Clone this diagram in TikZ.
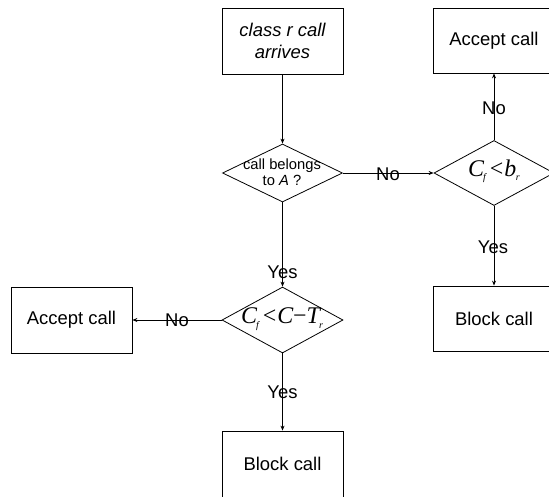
\documentclass[tikz,border=0pt]{standalone}
\usepackage{fontspec}
\setmainfont{Liberation Sans}
\newfontfamily\tms{Liberation Serif}
\usetikzlibrary{arrows.meta,shapes.geometric}
\newcommand{\vsub}[1]{\raisebox{-4.5bp}{\fontsize{10}{10}\selectfont #1}}
\begin{document}
\begin{tikzpicture}[x=1bp,y=-1bp,
  every node/.style={inner sep=0pt},
  boxnode/.style={draw, rectangle, minimum width=121bp, minimum height=66bp, line width=0.8bp, align=center, font=\fontsize{18.5}{22}\selectfont},
  dianode/.style={draw, diamond, line width=0.8bp},
  lbl/.style={font=\fontsize{18.5}{20}\selectfont},
  conn/.style={line width=0.8bp, -{Stealth[length=5bp,width=4bp]}},
  mathtxt/.style={font=\fontsize{24}{26}\selectfont\tms\itshape}
]
\useasboundingbox (0,0) rectangle (549,497);
\clip (0,0) rectangle (549,497);
\fill[white] (0,0) rectangle (549,497);

% boxes
\node[boxnode] (start) at (282.5,41) {\itshape class r call\\\itshape arrives};
\node[boxnode, minimum width=122bp, minimum height=65bp] (acc1) at (494,40.5) {Accept call};
\node[boxnode, minimum width=122bp, minimum height=65bp] (blk1) at (494,318.5) {Block call};
\node[boxnode] (acc2) at (71.5,320) {Accept call};
\node[boxnode] (blk2) at (282.5,464) {Block call};

% diamonds (shapes drawn with fixed size; text in separate nodes)
\node[dianode, minimum width=120bp, minimum height=58bp] (d1) at (282.5,173) {};
\node[align=center, font=\fontsize{14.8}{16}\selectfont] (d1t) at (282,172.5) {call belongs\\to \textit{A} ?};
\node[dianode, minimum width=120bp, minimum height=65bp] (d2) at (494,173) {};
\node[mathtxt] (d2t) at (494,171.5) {C\kern-1bp\vsub{f}\,{\upshape<}\kern1bp b\kern-0.5bp\vsub{r}};
\node[dianode, minimum width=121bp, minimum height=66bp] (d3) at (282.5,320) {};
\node[mathtxt] (d3t) at (282,319) {C\kern-1bp\vsub{f}\,{\upshape<}\kern1bp C{\upshape−}T\kern-1bp\vsub{r}};

% connectors
\draw[conn] (start.south) -- (d1.north);
\draw[conn] (d1.east) -- (d2.west);
\draw[conn] (d1.south) -- (d3.north);
\draw[conn] (d2.north) -- (acc1.south);
\draw[conn] (d2.south) -- (blk1.north);
\draw[conn] (d3.west) -- (acc2.east);
\draw[conn] (d3.south) -- (blk2.north);

% labels
\node[lbl] (l1) at (388,174) {No};
\node[lbl] (l2) at (282.5,272) {Yes};
\node[lbl] (l3) at (494,108) {No};
\node[lbl] (l4) at (493,247) {Yes};
\node[lbl] (l5) at (177,320.5) {No};
\node[lbl] (l6) at (282.5,392) {Yes};
\end{tikzpicture}
\end{document}
